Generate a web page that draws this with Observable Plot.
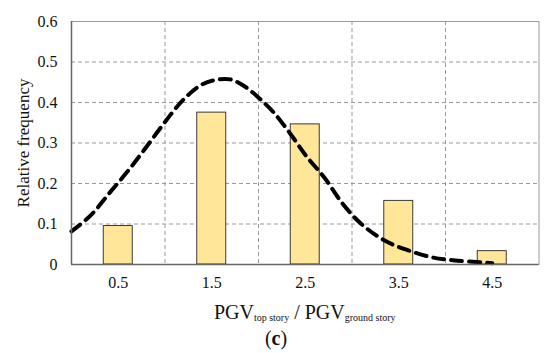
<!DOCTYPE html>
<html><head><meta charset="utf-8">
<script src="https://cdn.jsdelivr.net/npm/d3@7"></script>
<script src="https://cdn.jsdelivr.net/npm/@observablehq/plot@0.6"></script>
<style>
body{margin:0;background:#fff;width:550px;height:353px;overflow:hidden;position:relative;font-family:"Liberation Serif","Times New Roman",serif;color:#111}
#chart svg{display:block}
#xlabel{position:absolute;left:71px;width:467.5px;top:302px;text-align:center;font-size:20px;line-height:20px;white-space:nowrap}
#xlabel sub{font-size:10px;vertical-align:-2px;line-height:0}
#cap{position:absolute;left:0;width:552px;top:327px;text-align:center;font-size:20px;line-height:22px}
</style></head><body>
<div id="chart"></div>
<div id="xlabel">PGV<sub>top story</sub> / PGV<sub>ground story</sub></div>
<div id="cap">(<b>c</b>)</div>
<script>
// Histogram bins (centers) and relative frequencies
const binCenters = [0.5, 1.5, 2.5, 3.5, 4.5];
const relFreq = [0.095, 0.375, 0.346, 0.157, 0.033];
// Fitted distribution curve
const fitX = [0, 0.2, 0.4, 0.6, 0.8, 1.0, 1.2, 1.4, 1.55, 1.7, 1.85, 2.0, 2.16, 2.34, 2.52, 2.7, 2.9, 3.1, 3.35, 3.6, 3.85, 4.1, 4.4, 4.5];
const fitY = [0.082, 0.12, 0.175, 0.23, 0.29, 0.352, 0.408, 0.445, 0.456, 0.457, 0.44, 0.412, 0.376, 0.323, 0.265, 0.216, 0.15, 0.1, 0.059, 0.035, 0.018, 0.01, 0.005, 0.003];
const xTickVals = [0.5, 1.5, 2.5, 3.5, 4.5];
const yTickVals = [0, 0.1, 0.2, 0.3, 0.4, 0.5, 0.6];
const yLabel = "Relative frequency";

const bars = binCenters.map((x, i) => ({x, v: relFreq[i]}));
const fit = fitX.map((x, i) => ({x, y: fitY[i]}));
const halfW = 0.155;
const serif = "Liberation Serif";

const chart = Plot.plot({
  width: 550, height: 300,
  marginTop: 21, marginBottom: 36, marginLeft: 71, marginRight: 11.5,
  x: {domain: [0, 5]},
  y: {domain: [0, 0.6]},
  style: {color: "#111", background: "#fff", fontFamily: serif, fontSize: "16px"},
  marks: [
    Plot.gridY([0.1, 0.2, 0.3, 0.4, 0.5], {stroke: "#999", strokeOpacity: 1, strokeDasharray: "4,3"}),
    Plot.gridX([1, 2, 3, 4], {stroke: "#999", strokeOpacity: 1, strokeDasharray: "4,3"}),
    Plot.rectY(bars, {x1: d => d.x - halfW, x2: d => d.x + halfW, y1: 0, y2: "v", fill: "#FFE699", stroke: "#3a3a3a", strokeWidth: 1}),
    Plot.line(fit, {x: "x", y: "y", stroke: "#000", strokeWidth: 4, strokeDasharray: "11,7", curve: "catmull-rom"}),
    Plot.frame({stroke: "#999"}),
    Plot.ruleY([0], {stroke: "#666", strokeWidth: 1.5}),
    Plot.ruleX([0], {stroke: "#666", strokeWidth: 1.5}),
    Plot.axisX(xTickVals, {tickSize: 0, tickPadding: 12, label: null, fontSize: 16, fontFamily: serif, tickFormat: d => d.toFixed(1)}),
    Plot.axisY(yTickVals, {tickSize: 0, tickPadding: 14, label: null, fontSize: 16, fontFamily: serif, tickFormat: d => d === 0 ? "0" : d.toFixed(1)}),
    Plot.text([yLabel], {frameAnchor: "left", dx: -48, rotate: -90, textAnchor: "middle", text: d => d, fontSize: 17, fontFamily: serif})
  ]
});
document.getElementById("chart").append(chart);
</script>
</body></html>
